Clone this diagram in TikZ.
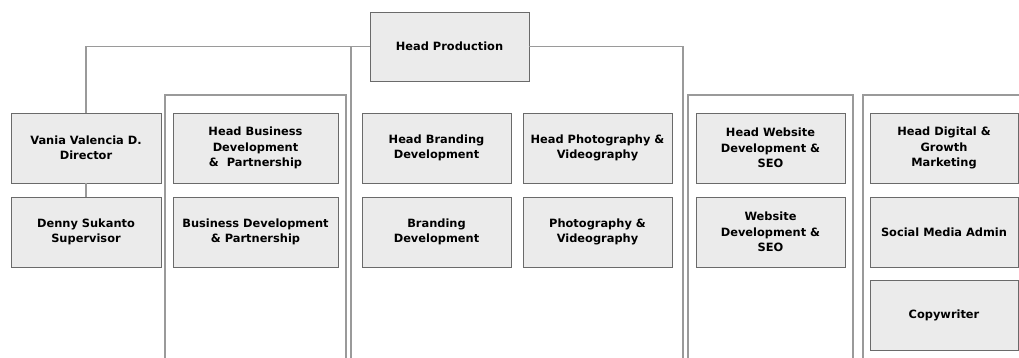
\documentclass[tikz,border=0pt]{standalone}
\usepackage{fontspec}
\setmainfont{DejaVu Sans}
\definecolor{boxline}{HTML}{6A6A6A}
\definecolor{boxfill}{HTML}{EBEBEB}
\definecolor{linegray}{HTML}{9A9A9A}
\begin{document}
\begin{tikzpicture}[x=1pt,y=-1pt,
  box/.style={draw=boxline, fill=boxfill, line width=0.9pt, minimum height=70pt,
    align=center, inner sep=0pt, text=black,
    font=\bfseries\fontsize{11.4}{15.5}\selectfont},
  conn/.style={draw=linegray, line width=1.5pt}]
\useasboundingbox (0,0) rectangle (1019,358);
% frames
\draw[conn] (165,358) -- (165,95) -- (346,95) -- (346,358);
\draw[conn] (688,358) -- (688,95) -- (853,95) -- (853,358);
\draw[conn] (863,358) -- (863,95) -- (1019,95);
% boxes
\node[box, minimum width=159pt, minimum height=69pt] (hp) at (449.5,46.5) {Head Production};
\node[box, minimum width=150pt] (vania) at (86,148) {Vania Valencia D.\\Director};
\node[box, minimum width=150pt] (denny) at (86,232) {Denny Sukanto\\Supervisor};
\node[box, minimum width=165pt] (hbd) at (255.5,148) {Head Business\\Development\\\&\ \ Partnership};
\node[box, minimum width=165pt] (bd) at (255.5,232) {Business Development\\\& Partnership};
\node[box, minimum width=149pt] (hbr) at (436.5,148) {Head Branding\\Development};
\node[box, minimum width=149pt] (br) at (436.5,232) {Branding\\Development};
\node[box, minimum width=149pt] (hph) at (597.5,148) {Head Photography \&\\Videography};
\node[box, minimum width=149pt] (ph) at (597.5,232) {Photography \&\\Videography};
\node[box, minimum width=149pt] (hweb) at (770.5,148) {Head Website\\Development \&\\SEO};
\node[box, minimum width=149pt] (web) at (770.5,232) {Website\\Development \&\\SEO};
\node[box, minimum width=148pt] (hdig) at (944,148) {Head Digital \&\\Growth\\Marketing};
\node[box, minimum width=148pt] (sma) at (944,232) {Social Media Admin};
\node[box, minimum width=148pt] (copy) at (944,315) {Copywriter};
% connectors
\coordinate (lb) at (86,46.5);
\coordinate (mid) at (351,46.5);
\coordinate (midend) at (351,358);
\coordinate (rb) at (683,46.5);
\coordinate (rend) at (683,358);
\draw[conn] (hp.west) -- (lb) -- (vania.north);
\draw[conn] (mid) -- (midend);
\draw[conn] (hp.east) -- (rb) -- (rend);
\draw[conn] (vania.south) -- (denny.north);
\end{tikzpicture}
\end{document}
